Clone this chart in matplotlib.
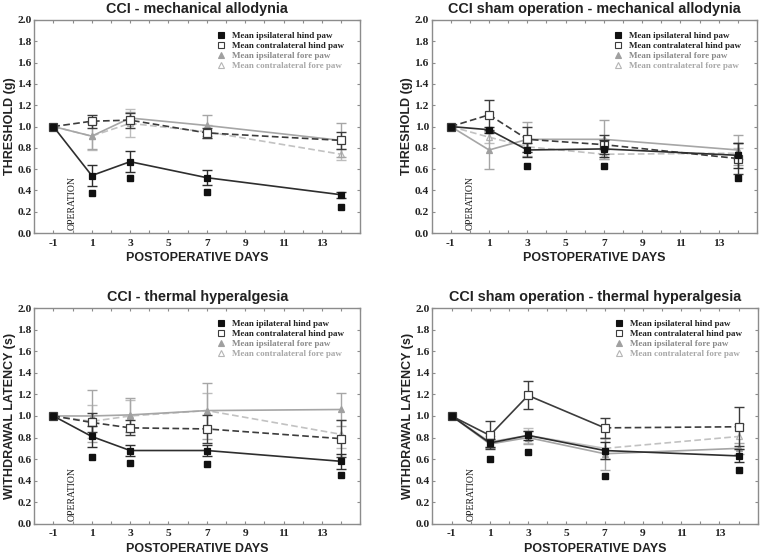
import numpy as np
import matplotlib
matplotlib.use('Agg')
import matplotlib.pyplot as plt
from matplotlib.lines import Line2D

plt.rcParams['axes.unicode_minus'] = False

# x positions (postoperative days)
days = [-1, 1, 3, 7, 14]

# --- CCI mechanical allodynia ---
mc_ipsi_hind = [1.0, 0.54, 0.67, 0.52, 0.36]
mc_ipsi_hind_err = [0.0, 0.10, 0.10, 0.07, 0.03]
mc_contra_hind = [1.0, 1.05, 1.06, 0.94, 0.87]
mc_contra_hind_err = [0.0, 0.06, 0.07, 0.05, 0.08]
mc_ipsi_fore = [1.0, 0.91, 1.08, 1.01, 0.87]
mc_ipsi_fore_err = [0.0, 0.12, 0.06, 0.10, 0.16]
mc_contra_fore = [1.0, 0.91, 1.03, 0.95, 0.74]
mc_contra_fore_err = [0.0, 0.13, 0.13, 0.06, 0.05]
mc_sig = [None, 0.38, 0.52, 0.385, 0.245]

# --- sham mechanical allodynia ---
ms_ipsi_hind = [1.0, 0.97, 0.78, 0.79, 0.73]
ms_ipsi_hind_err = [0.0, 0.03, 0.07, 0.08, 0.12]
ms_contra_hind = [1.0, 1.11, 0.88, 0.83, 0.70]
ms_contra_hind_err = [0.0, 0.14, 0.12, 0.09, 0.15]
ms_ipsi_fore = [1.0, 0.78, 0.88, 0.88, 0.78]
ms_ipsi_fore_err = [0.0, 0.18, 0.16, 0.18, 0.14]
ms_contra_fore = [1.0, 0.90, 0.81, 0.74, 0.75]
ms_contra_fore_err = [0.0, 0.05, 0.05, 0.04, 0.05]
ms_sig = [None, None, 0.63, 0.63, 0.52]

# --- CCI thermal hyperalgesia ---
tc_ipsi_hind = [1.0, 0.81, 0.68, 0.68, 0.58]
tc_ipsi_hind_err = [0.0, 0.10, 0.05, 0.05, 0.07]
tc_contra_hind = [1.0, 0.94, 0.89, 0.88, 0.79]
tc_contra_hind_err = [0.0, 0.09, 0.07, 0.13, 0.17]
tc_ipsi_fore = [1.0, 1.0, 1.01, 1.05, 1.06]
tc_ipsi_fore_err = [0.0, 0.24, 0.16, 0.26, 0.15]
tc_contra_fore = [1.0, 0.95, 1.0, 1.05, 0.83]
tc_contra_fore_err = [0.0, 0.15, 0.15, 0.16, 0.13]
tc_sig = [None, 0.62, 0.56, 0.555, 0.45]

# --- sham thermal hyperalgesia ---
ts_ipsi_hind = [1.0, 0.75, 0.82, 0.68, 0.63]
ts_ipsi_hind_err = [0.0, 0.04, 0.04, 0.08, 0.06]
ts_contra_hind = [1.0, 0.82, 1.19, 0.89, 0.90]
ts_contra_hind_err = [0.0, 0.13, 0.13, 0.09, 0.18]
ts_ipsi_fore = [1.0, 0.74, 0.80, 0.65, 0.70]
ts_ipsi_fore_err = [0.0, 0.04, 0.06, 0.15, 0.05]
ts_contra_fore = [1.0, 0.76, 0.82, 0.70, 0.81]
ts_contra_fore_err = [0.0, 0.05, 0.07, 0.10, 0.12]
ts_sig = [None, 0.60, 0.67, 0.44, 0.50]

labels_a = ['Mean ipsilateral hind paw', 'Mean contralateral hind paw',
            'Mean ipsilateral fore paw', 'Mean contralateral fore paw']
labels_b = ['Mean ipilateral hind paw', 'Mean contralateral hind paw',
            'Mean ipsilateral fore paw', 'Mean contralateral fore paw']

SERIF = 'Liberation Serif'
SANS = 'Liberation Sans'
FRAME = '#8c8c8c'

# style per series: line colour, marker, face, edge, errbar colour, text colour
styles = [
    dict(lc='#2e2e2e', ls='-', m='s', fc='#111111', ec='#111111', ms=4.6, erc='#2e2e2e', tc='#222222', z=6),
    dict(lc='#3c3c3c', ls=(0, (4, 2)), m='s', fc='white', ec='#3c3c3c', ms=5.2, erc='#3c3c3c', tc='#222222', z=5),
    dict(lc='#a6a6a6', ls='-', m='^', fc='#a0a0a0', ec='#a0a0a0', ms=4.2, erc='#a6a6a6', tc='#8a8a8a', z=4),
    dict(lc='#c2c2c2', ls=(0, (4, 2)), m='^', fc='white', ec='#b5b5b5', ms=4.6, erc='#bdbdbd', tc='#a8a8a8', z=3),
]


def draw_panel(ax, title, ylabel, series, sig, labels, dash_from=0):
    x = np.array(days, dtype=float)
    for k in [3, 2, 1, 0]:
        y, e = series[k]
        st = styles[k]
        y = np.array(y)
        ax.errorbar(x[1:], y[1:], yerr=e[1:], fmt='none', ecolor=st['erc'],
                    elinewidth=1.0, capsize=3.5, capthick=1.0, zorder=st['z'])
        if st['ls'] == '-' or dash_from == 0:
            ax.plot(x, y, color=st['lc'], ls=st['ls'], lw=1.2, zorder=st['z'])
        else:
            # solid up to dash_from, dashed after
            ax.plot(x[:dash_from + 1], y[:dash_from + 1], color=st['lc'], ls='-', lw=1.2, zorder=st['z'])
            ax.plot(x[dash_from:], y[dash_from:], color=st['lc'], ls=st['ls'], lw=1.2, zorder=st['z'])
        ax.plot(x, y, ls='none', marker=st['m'], ms=st['ms'], mfc=st['fc'],
                mec=st['ec'], mew=0.9, zorder=st['z'] + 0.5)
    # significance marks
    sx = [d for d, s in zip(days, sig) if s is not None]
    sy = [s for s in sig if s is not None]
    ax.plot(sx, sy, ls='none', marker='s', ms=4.6, mfc='#111111', mec='#111111', zorder=7)

    ax.text(0, 0.03, 'OPERATION', rotation=90, ha='center', va='bottom',
            family=SERIF, fontsize=7, color='#1a1a1a')

    ax.set_xlim(-2, 15)
    ax.set_ylim(0, 2.0)
    ax.set_xticks(range(-1, 14, 2))
    ax.set_xticks(range(-2, 16), minor=True)
    ax.set_yticks(np.arange(0, 2.01, 0.2))
    ax.set_yticklabels(['%.1f' % v for v in np.arange(0, 2.01, 0.2)])
    for lab in ax.get_xticklabels() + ax.get_yticklabels():
        lab.set_family(SERIF)
        lab.set_fontweight('bold')
        lab.set_fontsize(8.2)
        lab.set_color('#222222')
    ax.tick_params(which='both', direction='in', top=True, right=True,
                   color=FRAME, width=0.8, length=2.5, pad=2)
    ax.tick_params(axis='x', which='major', pad=4)
    for sp in ax.spines.values():
        sp.set_color(FRAME)
        sp.set_linewidth(1.0)

    ax.set_title(title, family=SANS, fontweight='bold', fontsize=10.4, color='#222222', pad=5)
    ax.set_xlabel('POSTOPERATIVE DAYS', family=SANS, fontweight='bold', fontsize=9, color='#222222', labelpad=3)
    ax.set_ylabel(ylabel, family=SANS, fontweight='bold', fontsize=9, color='#222222')
    ax.yaxis.set_label_coords(-0.057, 0.5)

    handles = []
    for st in styles:
        handles.append(Line2D([], [], ls='none', marker=st['m'], ms=st['ms'] * 0.9,
                              mfc=st['fc'], mec=st['ec'], mew=0.8))
    leg = ax.legend(handles, labels, loc='upper right', frameon=False,
                    prop={'family': SERIF, 'weight': 'bold', 'size': 6.5},
                    handlelength=0.8, handletextpad=0.8, labelspacing=0.2,
                    borderaxespad=0.3, bbox_to_anchor=(0.97, 0.975))
    for t, st in zip(leg.get_texts(), styles):
        t.set_color(st['tc'])


fig = plt.figure(figsize=(7.6, 5.55), dpi=100)
ax1 = fig.add_axes([0.045, 0.580, 0.429, 0.384])
ax2 = fig.add_axes([0.568, 0.580, 0.428, 0.384])
ax3 = fig.add_axes([0.045, 0.056, 0.429, 0.389])
ax4 = fig.add_axes([0.569, 0.056, 0.428, 0.389])

draw_panel(ax1, 'CCI - mechanical allodynia', 'THRESHOLD (g)',
           [(mc_ipsi_hind, mc_ipsi_hind_err), (mc_contra_hind, mc_contra_hind_err),
            (mc_ipsi_fore, mc_ipsi_fore_err), (mc_contra_fore, mc_contra_fore_err)],
           mc_sig, labels_a)
draw_panel(ax2, 'CCI sham operation - mechanical allodynia', 'THRESHOLD (g)',
           [(ms_ipsi_hind, ms_ipsi_hind_err), (ms_contra_hind, ms_contra_hind_err),
            (ms_ipsi_fore, ms_ipsi_fore_err), (ms_contra_fore, ms_contra_fore_err)],
           ms_sig, labels_a)
draw_panel(ax3, 'CCI - thermal hyperalgesia', 'WITHDRAWAL LATENCY (s)',
           [(tc_ipsi_hind, tc_ipsi_hind_err), (tc_contra_hind, tc_contra_hind_err),
            (tc_ipsi_fore, tc_ipsi_fore_err), (tc_contra_fore, tc_contra_fore_err)],
           tc_sig, labels_b)
draw_panel(ax4, 'CCI sham operation - thermal hyperalgesia', 'WITHDRAWAL LATENCY (s)',
           [(ts_ipsi_hind, ts_ipsi_hind_err), (ts_contra_hind, ts_contra_hind_err),
            (ts_ipsi_fore, ts_ipsi_fore_err), (ts_contra_fore, ts_contra_fore_err)],
           ts_sig, labels_a, dash_from=3)

fig.savefig('out.png', dpi=100)
